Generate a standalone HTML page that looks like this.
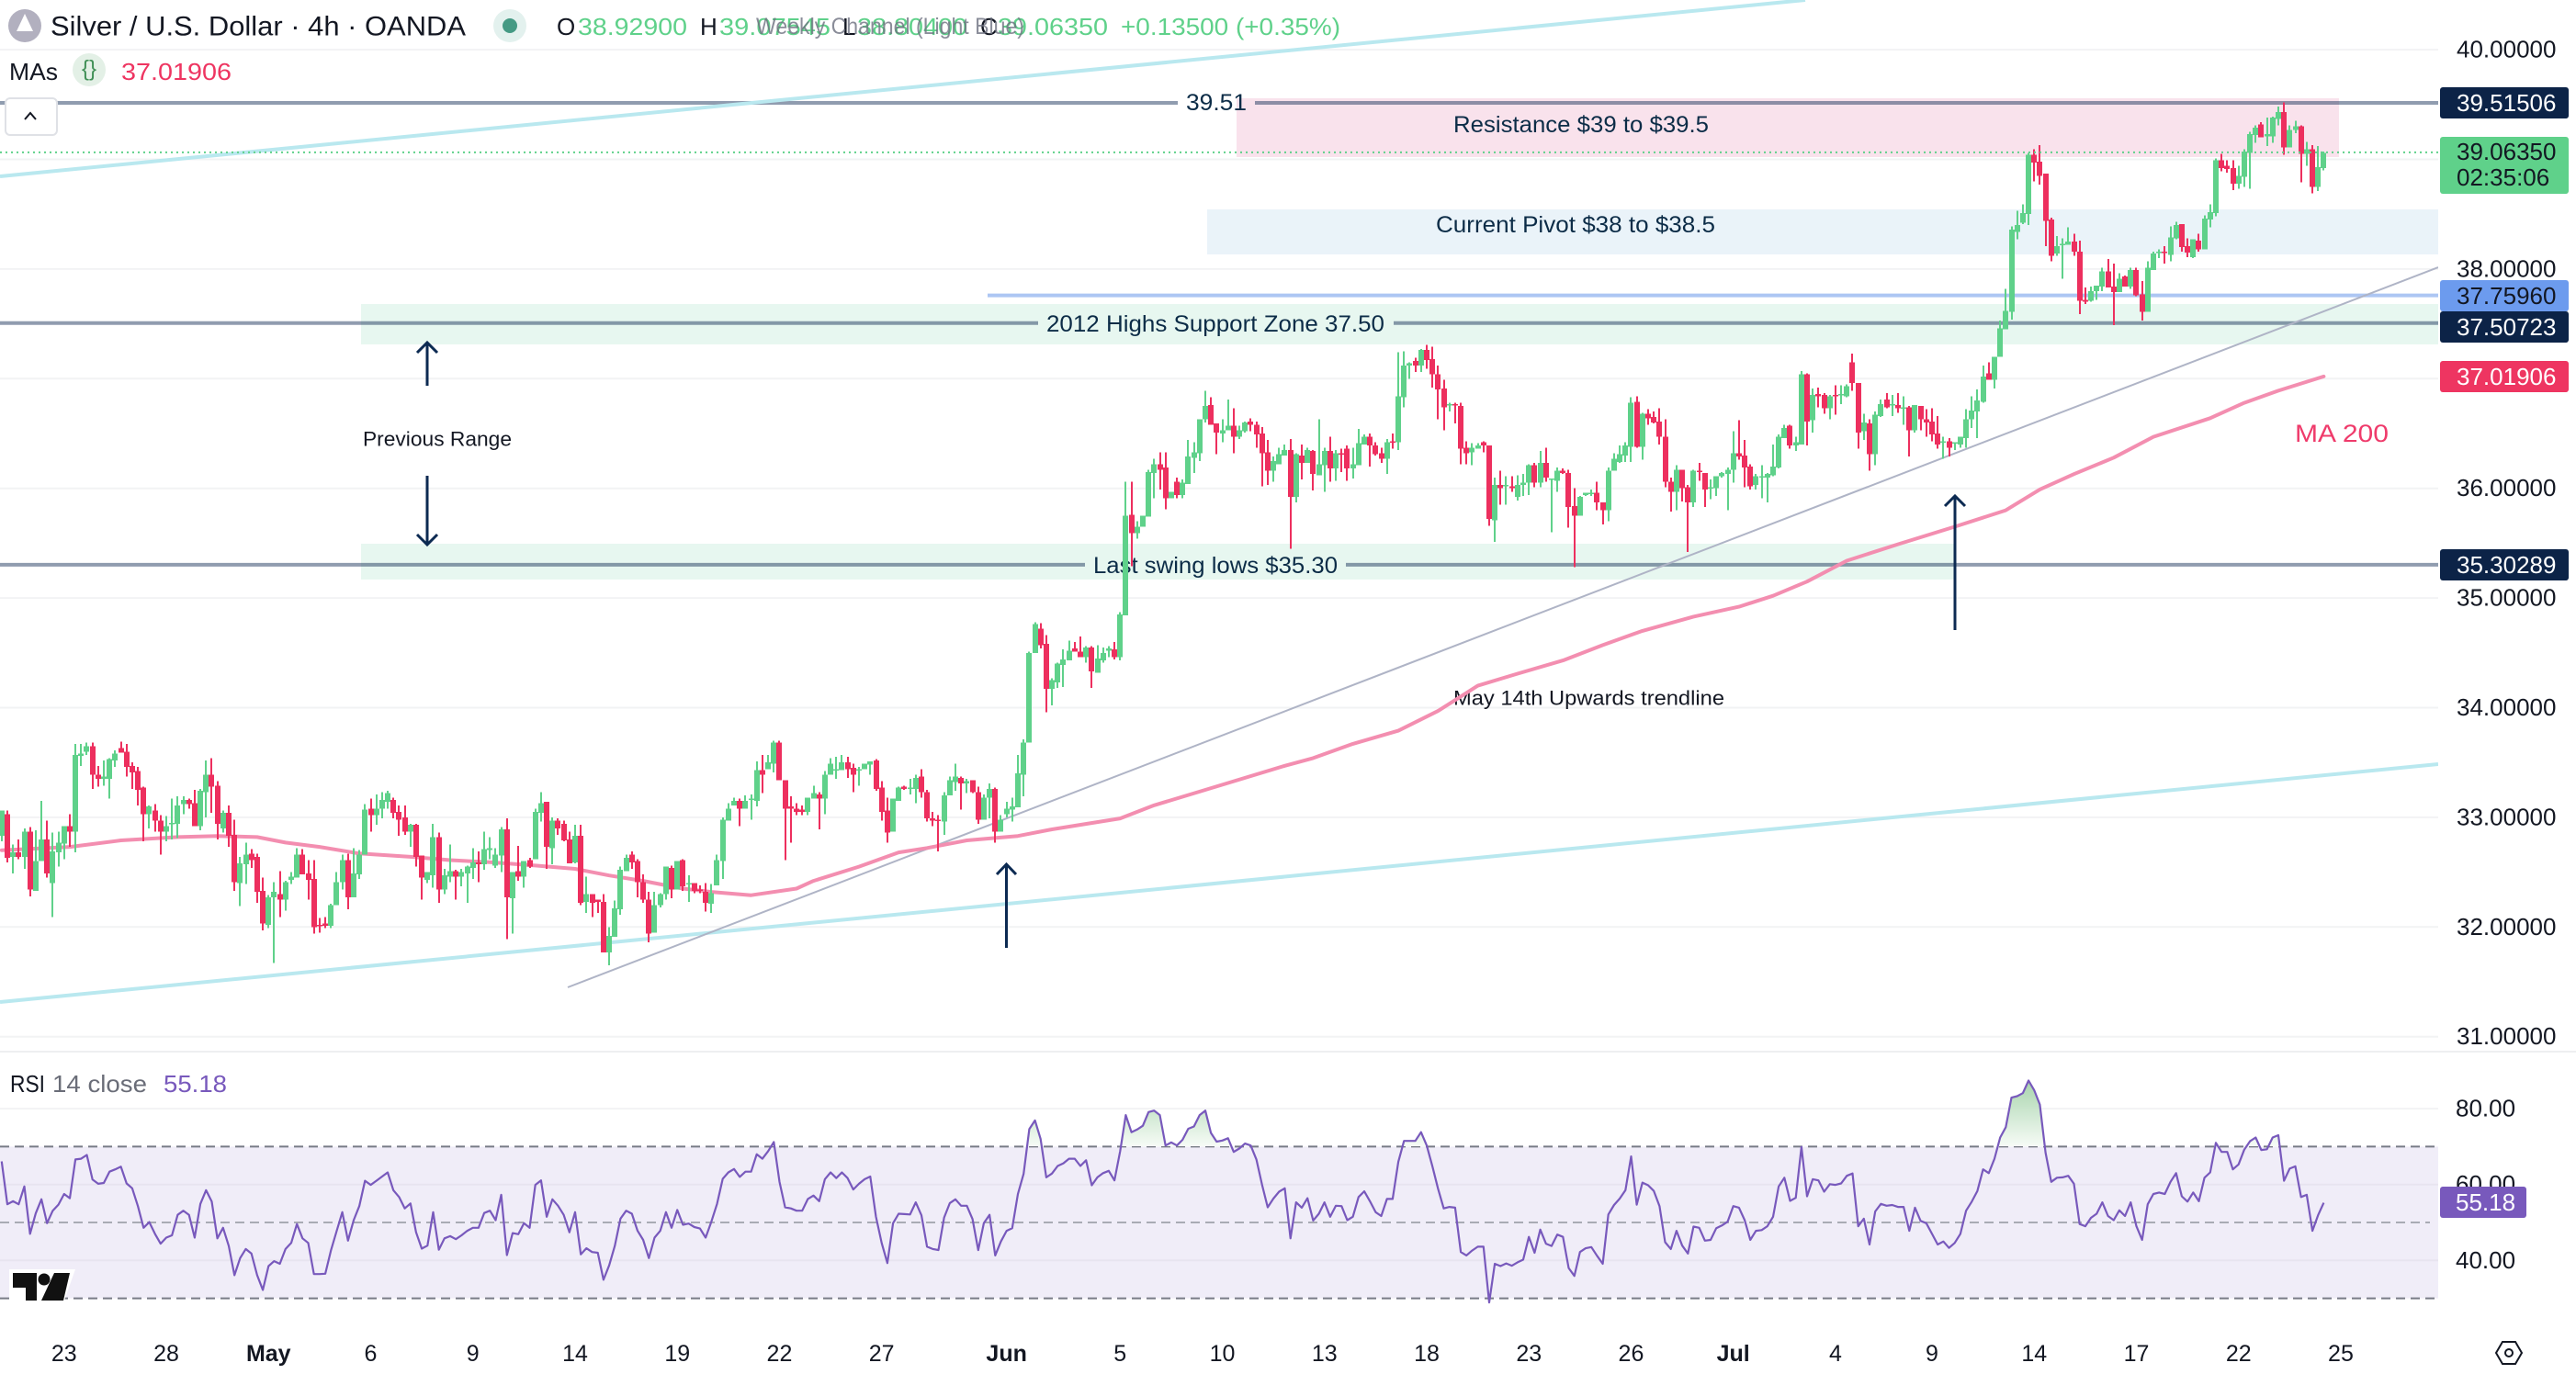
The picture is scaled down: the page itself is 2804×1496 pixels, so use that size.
<!DOCTYPE html>
<html lang="en">
<head>
<meta charset="utf-8">
<title>Silver / U.S. Dollar 4h chart</title>
<style>
html,body{margin:0;padding:0;background:#fff}
svg{display:block}
text{font-family:"Liberation Sans",sans-serif;dominant-baseline:central;fill:#131722}
.note{fill:#0c2c47}
.g{fill:#5fd18a}
</style>
</head>
<body>
<svg id="chart" xmlns="http://www.w3.org/2000/svg" width="2804" height="1496" viewBox="0 0 2804 1496">
<defs>
<linearGradient id="obGrad" gradientUnits="userSpaceOnUse" x1="0" y1="1175" x2="0" y2="1248">
<stop offset="0" stop-color="#a6d3ab"/><stop offset="1" stop-color="#f6fbf6"/>
</linearGradient>
<clipPath id="obClip"><rect x="0" y="1100" width="2654" height="148"/></clipPath>
<clipPath id="paneClip"><rect x="0" y="0" width="2654" height="1145"/></clipPath>
</defs>
<rect x="0" y="0" width="2804" height="1496" fill="#ffffff"/>
<g id="gridLayer"></g>

<g>
<rect x="1346" y="107" width="1200" height="64" fill="#f9e2ec"/>
<rect x="1314" y="228" width="1340" height="49" fill="#eaf3f9"/>
<rect x="393" y="331" width="2261" height="44" fill="#e7f7f0"/>
<rect x="393" y="592" width="1734" height="39" fill="#e7f7f0"/>
</g>

<g id="levelLayer"></g>

<g>
<text class="note" x="1291" y="112" font-size="25" textLength="66" lengthAdjust="spacingAndGlyphs">39.51</text>
<text class="note" x="1582" y="136" font-size="25" textLength="278" lengthAdjust="spacingAndGlyphs">Resistance $39 to $39.5</text>
<text class="note" x="1563" y="245" font-size="25" textLength="304" lengthAdjust="spacingAndGlyphs">Current Pivot $38 to $38.5</text>
<text class="note" x="1139" y="353" font-size="25" textLength="368" lengthAdjust="spacingAndGlyphs">2012 Highs Support Zone 37.50</text>
<text class="note" x="1190" y="616" font-size="25" textLength="266" lengthAdjust="spacingAndGlyphs">Last swing lows $35.30</text>
<text x="395" y="478" font-size="22" textLength="162" lengthAdjust="spacingAndGlyphs">Previous Range</text>
<text x="1582" y="760" font-size="22" textLength="295" lengthAdjust="spacingAndGlyphs">May 14th Upwards trendline</text>
<text x="2498" y="472" font-size="27" textLength="102" lengthAdjust="spacingAndGlyphs" style="fill:#ef3b6b">MA 200</text>
</g>

<g clip-path="url(#paneClip)">
<line x1="0" y1="192" x2="1965" y2="0" stroke="#b9e8ef" stroke-width="4"/>
<line x1="0" y1="1091" x2="2654" y2="832" stroke="#b9e8ef" stroke-width="4"/>
<line x1="618" y1="1075" x2="2654" y2="291" stroke="#afb4c6" stroke-width="2"/>
</g>

<polyline id="maLine" fill="none" stroke="#f38eb0" stroke-width="4" stroke-linejoin="round" stroke-linecap="round"/>
<g id="candleLayer" shape-rendering="crispEdges"></g>
<line id="lastPriceLine" x1="0" x2="2654" stroke="#5fd18a" stroke-width="2" stroke-dasharray="2 4"/>

<g fill="none" stroke="#0c2a52" stroke-width="3">
<path d="M465 420V373M454 384L465 373L476 384"/>
<path d="M465 518V593M454 582L465 593L476 582"/>
<path d="M1095.5 1032V941M1085 952L1095.5 941L1106 952"/>
<path d="M2128 686V540M2117 551L2128 540L2139 551"/>
</g>

<g>
<circle cx="27" cy="28" r="18" fill="#b2b0bf"/>
<path d="M27 15L36 34H18Z" fill="#ffffff"/>
<text x="55" y="29" font-size="30" textLength="452" lengthAdjust="spacingAndGlyphs">Silver / U.S. Dollar · 4h · OANDA</text>
<circle cx="555" cy="28" r="18" fill="#e3f1ee"/>
<circle cx="555" cy="28" r="8" fill="#459a84"/>
<text x="606" y="29" font-size="26">O</text>
<text class="g" x="629" y="29" font-size="26" textLength="119" lengthAdjust="spacingAndGlyphs">38.92900</text>
<text x="762" y="29" font-size="26">H</text>
<text class="g" x="783" y="29" font-size="26" textLength="121" lengthAdjust="spacingAndGlyphs">39.07545</text>
<text x="917" y="29" font-size="26">L</text>
<text class="g" x="933" y="29" font-size="26" textLength="120" lengthAdjust="spacingAndGlyphs">38.80400</text>
<text x="1067" y="29" font-size="26">C</text>
<text class="g" x="1086" y="29" font-size="26" textLength="120" lengthAdjust="spacingAndGlyphs">39.06350</text>
<text class="g" x="1220" y="29" font-size="26" textLength="239" lengthAdjust="spacingAndGlyphs">+0.13500 (+0.35%)</text>
<text x="823" y="29" font-size="25" textLength="292" lengthAdjust="spacingAndGlyphs" style="fill:#6e7180;opacity:.8">Weekly Channel (Light Blue)</text>
<text x="10" y="78" font-size="26" textLength="53" lengthAdjust="spacingAndGlyphs">MAs</text>
<circle cx="97" cy="76" r="18" fill="#e3f0e6"/>
<text x="97" y="75" font-size="24" text-anchor="middle" style="fill:#3f8f55">{}</text>
<text x="132" y="78" font-size="26" textLength="120" lengthAdjust="spacingAndGlyphs" style="fill:#ee3561">37.01906</text>
<rect x="6" y="107" width="56" height="40" rx="5" fill="#ffffff" stroke="#dfe1e6" stroke-width="2"/>
<path d="M27 130L33 123L39 130" fill="none" stroke="#131722" stroke-width="2"/>
</g>

<g id="priceAxis"></g>
<g>
<rect x="2656" y="95" width="140" height="34" rx="3" fill="#0c2347"/>
<text x="2674" y="112" font-size="26" style="fill:#fff">39.51506</text>
<rect x="2656" y="149" width="140" height="62" rx="3" fill="#5fd18a"/>
<text x="2674" y="165" font-size="26">39.06350</text>
<text x="2674" y="193" font-size="26">02:35:06</text>
<rect x="2656" y="305" width="140" height="34" rx="3" fill="#6c9bee"/>
<text x="2674" y="322" font-size="26">37.75960</text>
<rect x="2656" y="339" width="140" height="34" rx="3" fill="#0c2347"/>
<text x="2674" y="356" font-size="26" style="fill:#fff">37.50723</text>
<rect x="2656" y="393" width="140" height="34" rx="3" fill="#ee3561"/>
<text x="2674" y="410" font-size="26" style="fill:#fff">37.01906</text>
<rect x="2656" y="598" width="140" height="34" rx="3" fill="#0c2347"/>
<text x="2674" y="615" font-size="26" style="fill:#fff">35.30289</text>
</g>

<line x1="0" y1="1145" x2="2804" y2="1145" stroke="#eeeff1" stroke-width="2"/>

<g>
<text x="11" y="1180" font-size="26" textLength="38" lengthAdjust="spacingAndGlyphs">RSI</text>
<text x="57" y="1180" font-size="26" textLength="103" lengthAdjust="spacingAndGlyphs" style="fill:#6a6d78">14 close</text>
<text x="178" y="1180" font-size="26" textLength="69" lengthAdjust="spacingAndGlyphs" style="fill:#7859bc">55.18</text>
<rect id="rsiBand" x="0" width="2654" fill="#f0edf8"/>
<g id="rsiGrid"></g>
<polygon id="rsiFill" fill="url(#obGrad)" clip-path="url(#obClip)"/>
<polyline id="rsiLine" fill="none" stroke="#7859bc" stroke-width="2.2" stroke-linejoin="round"/>
</g>
<g id="rsiAxis"></g>
<rect x="2656" y="1292" width="94" height="34" rx="3" fill="#7859bc"/>
<text x="2673" y="1309" font-size="26" style="fill:#fff">55.18</text>

<g>
<path d="M10 1382H82L70 1416H10Z" fill="#ffffff"/>
<path d="M14 1386H40V1416H28V1402H14Z" fill="#111"/>
<circle cx="48" cy="1393" r="6.5" fill="#111"/>
<path d="M59 1386H76L69 1416H45Z" fill="#111"/>
</g>

<g id="timeAxis"></g>
<g fill="none" stroke="#131722" stroke-width="2">
<path d="M2717 1473L2724 1461H2738L2745 1473L2738 1485H2724Z"/>
<circle cx="2731" cy="1473" r="4"/>
</g>
</svg>

<script>
// Candles: [open, high, low, close]
const aprilCandles = [
[32.83,33.06,32.78,33.06],[33.03,33.06,32.59,32.63],[32.64,32.75,32.49,32.68],[32.68,32.80,32.62,32.64],[32.64,32.90,32.53,32.87],
[32.87,32.91,32.28,32.34],[32.33,32.88,32.33,32.60],[32.60,33.15,32.60,32.80],[32.80,32.97,32.45,32.49],[32.40,32.86,32.09,32.69],
[32.68,32.87,32.55,32.77],[32.76,32.92,32.62,32.92],[32.92,33.03,32.73,32.87],[32.87,33.67,32.68,33.57],[33.56,33.67,33.47,33.58],
[33.60,33.68,33.57,33.65],[33.65,33.68,33.26,33.39],[33.39,33.47,33.28,33.35],[33.35,33.52,33.29,33.37],[33.35,33.54,33.17,33.53],
[33.52,33.61,33.46,33.58],[33.63,33.69,33.59,33.59],[33.60,33.67,33.37,33.46],[33.47,33.50,33.26,33.41],[33.42,33.46,33.11,33.25],
[33.27,33.28,32.78,33.03],[33.03,33.11,32.90,33.10],[33.06,33.12,32.87,32.97],[32.97,33.02,32.66,32.87],[32.87,33.01,32.78,32.92],
[32.94,33.17,32.80,32.95],[32.94,33.19,32.81,33.11],[33.12,33.19,33.03,33.16],[33.16,33.17,33.08,33.12],[33.13,33.25,32.92,32.92],
[32.92,33.26,32.88,33.24],[33.23,33.52,33.00,33.39],[33.39,33.54,33.04,33.28],[33.29,33.33,32.80,32.94],[32.90,33.06,32.86,33.04],
[33.04,33.11,32.73,32.83],[32.84,32.98,32.33,32.41],[32.40,32.64,32.19,32.58],[32.57,32.77,32.39,32.66],[32.67,32.71,32.54,32.61],
[32.64,32.67,32.22,32.32],[32.33,32.45,31.97,32.03]];
const mayCandles = [
[32.02,32.29,31.99,32.27],[32.27,32.41,31.67,32.32],[32.30,32.51,32.09,32.25],[32.25,32.42,32.15,32.41],[32.43,32.50,32.39,32.46],
[32.45,32.72,32.45,32.66],[32.66,32.71,32.48,32.48],[32.49,32.61,32.25,32.43],[32.44,32.61,31.94,32.00],[32.02,32.08,31.95,32.01],
[32.03,32.09,31.99,32.01],[32.01,32.21,31.99,32.20],[32.20,32.50,32.20,32.41],[32.41,32.66,32.34,32.61],[32.61,32.67,32.16,32.27],
[32.27,32.72,32.27,32.49],[32.48,32.70,32.44,32.66],[32.66,33.12,32.66,33.07],[33.08,33.17,32.87,33.02],[33.02,33.21,32.93,33.08],
[33.08,33.23,32.99,33.16],[33.14,33.24,33.08,33.22],[33.16,33.18,32.99,33.04],[33.05,33.11,32.83,32.98],[33.00,33.11,32.84,32.87],
[32.87,32.94,32.73,32.93],[32.93,32.94,32.55,32.64],[32.65,32.65,32.25,32.45],[32.43,32.50,32.40,32.50],[32.47,32.94,32.36,32.82],
[32.82,32.86,32.22,32.34],[32.34,32.53,32.30,32.47],[32.46,32.75,32.41,32.51],[32.51,32.52,32.25,32.46],[32.46,32.53,32.37,32.50],
[32.49,32.56,32.22,32.55],[32.54,32.72,32.44,32.59],[32.59,32.69,32.41,32.57],[32.57,32.87,32.52,32.71],[32.70,32.82,32.62,32.72],
[32.56,32.72,32.54,32.66],[32.65,32.91,32.50,32.89],[32.89,32.99,31.89,32.27],[32.26,32.50,31.94,32.50],[32.51,32.74,32.42,32.46],
[32.46,32.60,32.36,32.60],[32.61,32.63,32.54,32.55],[32.62,33.08,32.62,33.05],[33.04,33.23,32.96,33.13],[33.14,33.14,32.53,32.73],
[32.72,33.00,32.57,32.97],[32.97,32.99,32.84,32.90],[32.94,32.97,32.78,32.79],[32.80,32.87,32.58,32.58],[32.59,32.93,32.58,32.83],
[32.83,32.93,32.20,32.22],[32.23,32.46,32.13,32.30],[32.30,32.30,32.09,32.22],[32.25,32.25,32.13,32.23],[32.23,32.30,31.77,31.77],
[31.77,32.00,31.65,31.92],[31.91,32.24,31.91,32.17],[32.16,32.55,32.11,32.52],[32.51,32.66,32.51,32.63],[32.66,32.69,32.53,32.59],
[32.60,32.62,32.27,32.41],[32.41,32.48,32.22,32.25],[32.25,32.32,31.86,31.94],[31.95,32.32,31.95,32.20],[32.20,32.31,32.18,32.30],
[32.30,32.55,32.25,32.55],[32.54,32.56,32.26,32.34],[32.34,32.60,32.34,32.60],[32.61,32.62,32.33,32.37],[32.39,32.47,32.23,32.40],
[32.40,32.40,32.31,32.33],[32.34,32.38,32.31,32.33],[32.32,32.40,32.14,32.22],[32.21,32.39,32.13,32.31],[32.38,32.66,32.38,32.61],
[32.60,33.00,32.44,32.98],[32.97,33.13,32.97,33.08],[33.11,33.18,33.11,33.15],[33.15,33.17,32.92,33.08],[33.08,33.20,33.08,33.15],
[33.16,33.21,32.98,33.17],[33.15,33.51,33.10,33.43],[33.43,33.57,33.22,33.39],[33.44,33.57,33.44,33.50],[33.49,33.70,33.41,33.68],
[33.68,33.70,33.34,33.34],[33.34,33.34,32.61,33.08],[33.10,33.19,32.77,33.08],[33.08,33.13,33.02,33.05],[33.07,33.11,33.02,33.05],
[33.05,33.18,33.02,33.18],[33.17,33.29,33.17,33.22],[33.21,33.23,32.89,33.17],[33.17,33.42,33.03,33.39],[33.39,33.54,33.39,33.49],
[33.44,33.55,33.35,33.44],[33.43,33.57,33.43,33.50],[33.50,33.55,33.36,33.44],[33.45,33.49,33.23,33.39],[33.44,33.46,33.29,33.44],
[33.44,33.49,33.44,33.49],[33.48,33.51,33.39,33.51],[33.52,33.53,33.24,33.26],[33.27,33.33,32.97,33.05],[33.06,33.18,32.77,32.86],
[32.87,33.17,32.87,33.17],[33.15,33.28,33.15,33.27],[33.28,33.29,33.25,33.26],[33.26,33.35,33.21,33.27],[33.26,33.39,33.13,33.36],
[33.37,33.44,33.18,33.23],[33.23,33.25,32.96,32.99],[32.99,33.05,32.92,32.97],[32.98,33.02,32.69,32.97],[32.96,33.23,32.84,33.20],
[33.20,33.37,33.20,33.34],[33.32,33.49,33.24,33.37],[33.36,33.37,33.07,33.31],[33.31,33.35,33.22,33.33],[33.34,33.34,33.22,33.23],
[33.23,33.28,32.94,32.98],[32.98,33.21,32.98,33.18],[33.18,33.31,32.99,33.26],[33.26,33.27,32.77,32.87],[32.87,33.02,32.87,32.98]];
const juneCandles = [
[33.03,33.14,33.00,33.08],[33.07,33.18,32.96,33.10],[33.09,33.57,33.09,33.40],[33.39,33.71,33.19,33.68],[33.68,34.51,33.68,34.50],
[34.50,34.78,34.50,34.76],[34.72,34.77,34.54,34.57],[34.58,34.66,33.96,34.17],[34.17,34.27,34.02,34.25],[34.23,34.41,34.18,34.40],
[34.39,34.53,34.19,34.44],[34.43,34.61,34.43,34.52],[34.54,34.60,34.51,34.51],[34.51,34.65,34.46,34.46],[34.46,34.56,34.41,34.55],
[34.55,34.56,34.18,34.33],[34.32,34.57,34.32,34.45],[34.43,34.55,34.41,34.50],[34.52,34.56,34.46,34.54],[34.53,34.60,34.44,34.46],
[34.46,34.87,34.43,34.85],[34.84,36.06,34.84,35.75],[35.76,36.06,35.29,35.59],[35.59,35.70,35.54,35.65],[35.65,35.75,35.65,35.75],
[35.74,36.17,35.74,36.15],[36.14,36.27,35.91,36.22],[36.22,36.33,35.99,36.17],[36.19,36.33,35.81,35.91],[35.91,35.97,35.91,35.97],
[36.06,36.10,35.91,35.94],[35.94,36.08,35.91,36.05],[36.04,36.44,36.04,36.29],[36.28,36.42,36.14,36.33],[36.32,36.63,36.25,36.63],
[36.63,36.89,36.60,36.75],[36.76,36.83,36.58,36.58],[36.59,36.59,36.31,36.51],[36.50,36.63,36.42,36.53],[36.53,36.81,36.53,36.57],
[36.57,36.73,36.32,36.47],[36.47,36.57,36.45,36.53],[36.52,36.61,36.51,36.60],[36.61,36.64,36.52,36.58],[36.58,36.61,36.37,36.49],
[36.50,36.56,36.02,36.32],[36.33,36.44,36.03,36.16],[36.16,36.29,36.06,36.25],[36.22,36.37,36.22,36.31],[36.30,36.40,36.30,36.35],
[36.35,36.45,35.45,35.92],[35.92,36.32,35.87,36.31],[36.30,36.40,36.08,36.23],[36.23,36.37,36.23,36.35],[36.34,36.35,35.98,36.13],
[36.12,36.63,36.12,36.22],[36.21,36.37,35.97,36.34],[36.34,36.47,36.06,36.18],[36.18,36.35,36.07,36.32],[36.32,36.36,36.15,36.31],
[36.36,36.39,36.07,36.18],[36.18,36.37,36.09,36.22],[36.21,36.54,36.21,36.41],[36.40,36.49,36.40,36.47],[36.47,36.50,36.20,36.39],
[36.39,36.42,36.30,36.31],[36.32,36.37,36.23,36.27],[36.27,36.45,36.13,36.42],[36.43,36.50,36.36,36.42],[36.42,37.24,36.35,36.84],
[36.83,37.25,36.74,37.12],[37.12,37.15,37.00,37.14],[37.16,37.19,37.06,37.12],[37.12,37.27,37.06,37.26],[37.26,37.31,37.09,37.17],
[37.18,37.29,36.92,37.04],[37.04,37.12,36.63,36.90],[36.91,36.99,36.53,36.74],[36.76,36.78,36.70,36.77],[36.77,36.78,36.59,36.76],
[36.75,36.78,36.22,36.36],[36.37,36.43,36.22,36.32],[36.33,36.41,36.21,36.37],[36.36,36.41,36.36,36.39],[36.42,36.43,36.33,36.39],
[36.39,36.39,35.66,35.72],[35.71,36.10,35.51,36.03],[36.03,36.16,35.85,36.00],[36.02,36.11,35.85,36.03],[36.02,36.11,35.97,36.00],
[35.92,36.12,35.89,36.03],[36.03,36.13,35.93,36.05],[36.05,36.22,35.94,36.21],[36.21,36.23,36.01,36.05],[36.05,36.34,36.01,36.23],
[36.23,36.37,36.06,36.10],[36.08,36.09,35.60,36.09],[36.07,36.19,35.97,36.16],[36.16,36.18,36.13,36.14],[36.14,36.17,35.64,35.83],
[35.84,36.00,35.28,35.75],[35.75,35.93,35.75,35.92],[35.94,35.96,35.93,35.96],[35.95,35.99,35.93,35.96],[35.96,36.06,35.80,35.87],
[35.87,35.87,35.67,35.80],[35.80,36.19,35.70,36.16],[36.16,36.32,36.16,36.27],[36.24,36.39,36.23,36.31],[36.30,36.42,36.24,36.39],
[36.38,36.83,36.24,36.78],[36.79,36.84,36.37,36.38],[36.38,36.69,36.26,36.68],[36.68,36.72,36.58,36.64],[36.65,36.70,36.59,36.60],
[36.61,36.73,36.40,36.47],[36.47,36.63,36.01,36.06],[36.06,36.10,35.79,35.97],[35.97,36.21,35.80,36.17],[36.17,36.17,35.88,36.00],
[36.01,36.03,35.42,35.87],[35.87,36.17,35.83,36.16],[36.16,36.23,36.07,36.15]];
const julyCandles = [
[36.14,36.14,35.83,35.99],[36.00,36.08,35.90,36.01],[36.00,36.11,35.93,36.11],[36.11,36.15,36.10,36.14],[36.13,36.19,35.80,36.17],
[36.17,36.52,36.05,36.32],[36.32,36.62,36.26,36.29],[36.30,36.44,36.01,36.19],[36.20,36.22,35.99,36.02],[36.03,36.13,35.99,36.11],
[36.10,36.21,35.91,36.11],[36.10,36.14,35.87,36.13],[36.12,36.40,36.11,36.20],[36.19,36.49,36.18,36.47],[36.46,36.58,36.46,36.55],
[36.57,36.58,36.36,36.39],[36.39,36.47,36.34,36.42],[36.40,37.07,36.40,37.04],[37.04,37.05,36.39,36.61],[36.62,36.91,36.51,36.85],
[36.86,36.92,36.74,36.84],[36.85,36.87,36.68,36.73],[36.73,36.85,36.63,36.84],[36.85,36.94,36.67,36.84],[36.85,36.94,36.77,36.86],
[36.84,36.95,36.83,36.93],[37.15,37.23,36.89,36.96],[36.96,36.96,36.36,36.51],[36.52,36.68,36.44,36.60],[36.59,36.63,36.16,36.31],
[36.31,36.70,36.21,36.67],[36.66,36.81,36.65,36.77],[36.81,36.87,36.73,36.74],[36.76,36.85,36.66,36.77],[36.76,36.87,36.69,36.73],
[36.73,36.84,36.58,36.74],[36.74,36.75,36.29,36.53],[36.53,36.76,36.51,36.76],[36.75,36.75,36.53,36.63],[36.63,36.72,36.47,36.60],
[36.61,36.73,36.43,36.49],[36.50,36.66,36.36,36.40],[36.42,36.47,36.27,36.43],[36.43,36.46,36.29,36.37],[36.41,36.42,36.35,36.42],
[36.40,36.47,36.37,36.47],[36.46,36.72,36.37,36.63],[36.63,36.84,36.55,36.71],[36.70,36.90,36.46,36.80],[36.79,37.12,36.78,37.02],
[37.05,37.15,36.99,36.99],[36.99,37.20,36.91,37.20],[37.20,37.53,37.20,37.46],[37.45,37.82,37.45,37.62],[37.61,38.39,37.54,38.36],
[38.34,38.53,38.27,38.40],[38.42,38.59,38.41,38.51],[38.50,39.06,38.40,39.04],[39.04,39.09,38.80,38.97],[38.98,39.13,38.77,38.85],
[38.87,38.87,38.21,38.44],[38.45,38.47,38.07,38.12],[38.14,38.30,38.12,38.21],[38.22,38.28,37.91,38.23],[38.22,38.38,38.22,38.25],
[38.25,38.32,38.12,38.16],[38.16,38.26,37.59,37.71],[37.72,37.83,37.68,37.70],[37.71,37.84,37.70,37.80],[37.80,37.85,37.72,37.85],
[37.84,38.01,37.80,37.98],[37.98,38.09,37.83,37.83],[37.84,38.05,37.49,37.79],[37.79,37.96,37.79,37.91],[37.93,37.94,37.84,37.84],
[37.84,38.01,37.82,37.99],[37.99,38.01,37.75,37.76],[37.77,37.89,37.53,37.61],[37.61,38.07,37.61,38.01],[37.99,38.16,37.99,38.14],
[38.15,38.18,38.10,38.16],[38.16,38.21,38.05,38.15],[38.13,38.39,38.07,38.29],[38.28,38.43,38.27,38.40],[38.41,38.41,38.16,38.20],
[38.21,38.28,38.11,38.15],[38.11,38.27,38.10,38.27],[38.26,38.32,38.16,38.18],[38.18,38.49,38.18,38.46],[38.45,38.59,38.38,38.52],
[38.51,39.01,38.48,38.99],[38.99,39.05,38.89,38.92],[38.94,38.99,38.88,38.91],[38.92,38.99,38.72,38.78],[38.78,38.94,38.73,38.85],
[38.84,39.09,38.75,39.07],[39.06,39.25,38.73,39.23],[39.22,39.31,39.15,39.29],[39.32,39.34,39.20,39.20],[39.21,39.38,39.12,39.23],
[39.21,39.39,39.15,39.38],[39.37,39.48,39.31,39.43],[39.43,39.52,39.04,39.11],[39.11,39.31,39.11,39.27],[39.27,39.35,39.24,39.30],
[39.30,39.31,38.79,39.05],[39.05,39.16,38.94,39.09],[39.09,39.13,38.69,38.75],[38.75,39.12,38.71,38.93],[38.92,39.07,38.90,39.06]];

// 200-period moving average, read at these bar numbers
const maBars = [0,12,21,31,38,45,50,56,63,72,79,86,94,101,107,113,120,125,132,140,143,151,158,163,170,179,185,197,203,212,226,231,238,246,253,260,267,275,282,289,298,306,312,318,325,334,344,353,359,365,372,379,389,395,401,409];
const maValues = [32.70,32.73,32.79,32.82,32.83,32.82,32.77,32.73,32.67,32.64,32.61,32.59,32.56,32.53,32.47,32.42,32.35,32.32,32.29,32.35,32.42,32.55,32.68,32.72,32.79,32.83,32.89,32.99,33.11,33.25,33.47,33.54,33.67,33.79,33.97,34.20,34.31,34.43,34.57,34.70,34.83,34.92,35.02,35.15,35.34,35.49,35.65,35.80,35.99,36.13,36.28,36.47,36.64,36.78,36.89,37.02];

// RSI(14) per bar
const rsiValues = [
66.1,54.8,55.6,54.8,59.5,47.0,52.4,56.1,49.8,53.1,
54.7,57.5,56.4,66.6,66.8,67.8,61.3,60.2,60.4,63.4,
64.0,64.7,60.3,59.0,54.3,48.6,50.1,47.0,44.4,46.0,
46.6,52.0,53.1,52.0,46.0,54.9,58.5,55.5,45.8,48.6,
43.8,36.1,40.6,43.0,41.8,36.1,32.2,38.5,39.8,39.1,
43.0,44.6,49.6,45.8,44.6,36.4,36.4,36.5,42.6,47.7,
52.7,45.2,50.6,54.3,61.0,59.9,61.0,62.1,63.2,58.5,
56.7,53.7,55.0,47.4,43.1,43.9,52.7,42.8,45.8,46.4,
45.6,46.6,47.8,48.6,48.6,52.5,53.1,50.6,57.3,41.4,
47.2,46.9,49.8,48.6,59.9,61.1,51.5,56.1,54.4,52.0,
47.4,52.7,41.6,43.2,42.2,42.0,34.9,38.7,43.8,51.0,
53.1,52.3,47.8,45.4,40.6,46.0,47.8,52.7,48.6,53.3,
49.4,49.7,48.8,48.4,46.0,50.2,54.9,61.5,63.2,64.1,
62.0,63.4,63.4,68.0,66.8,68.8,71.2,60.7,54.0,53.7,
53.1,53.1,56.2,57.1,55.6,61.4,63.2,61.7,63.2,61.7,
58.7,60.2,61.4,62.1,51.5,44.6,39.3,49.8,52.3,52.2,
52.1,55.3,51.9,
43.6,43.0,42.7,51.3,55.1,56.1,54.4,54.4,50.9,42.7,
49.8,52.0,41.3,45.0,47.8,48.5,57.5,62.8,74.6,76.9,
72.0,61.9,62.9,64.9,65.6,66.8,66.8,64.9,66.4,59.8,
61.9,63.0,63.6,61.1,68.8,78.3,73.8,74.5,75.5,79.1,
79.5,78.3,70.3,71.1,70.3,71.8,74.7,75.3,78.3,79.5,
73.6,71.3,71.6,72.2,68.6,69.5,70.8,70.3,66.6,59.9,
54.0,56.3,58.1,59.0,45.8,55.3,53.9,56.4,50.5,52.3,
55.3,51.5,54.4,54.3,50.6,51.5,56.7,58.2,55.6,52.7,
51.7,56.2,56.2,66.0,71.5,71.5,71.5,73.8,70.3,64.8,
58.9,53.7,54.1,53.9,42.2,41.3,42.6,43.6,43.6,28.9,
39.1,38.5,39.2,38.6,39.5,40.2,46.2,42.0,48.1,44.4,
43.8,46.8,46.2,38.0,35.9,42.2,43.2,43.5,41.2,39.1,
52.1,54.6,56.3,58.5,67.4,54.7,60.5,59.8,58.3,54.3,
44.8,43.0,47.8,43.9,41.8,48.9,48.6,45.2,45.4,48.5,
49.2,50.2,54.3,53.9,50.6,45.4,47.8,48.0,49.0,51.5,
59.5,61.8,55.7,56.5,69.9,56.9,61.4,61.1,58.1,60.1,59.9,
60.3,62.3,62.9,49.0,51.0,44.2,52.9,54.9,54.4,54.6,
54.1,54.1,47.8,53.9,50.4,49.8,47.0,44.2,45.0,43.3,
44.6,47.0,53.1,55.5,58.3,64.0,63.0,66.8,72.4,75.1,
82.9,83.3,84.1,87.4,84.9,81.1,68.4,60.7,61.8,61.9,
62.3,60.2,49.6,49.0,51.2,52.3,55.3,51.7,50.6,53.2,
51.7,55.3,49.0,45.4,54.8,57.5,57.9,57.5,60.7,63.0,
56.9,55.5,57.9,55.6,61.8,63.2,71.0,68.6,68.6,64.0,
65.3,69.2,71.4,72.4,69.1,69.3,72.4,73.0,61.0,64.2,
64.8,56.7,57.3,47.8,51.9,55.18];

// Axis content
const gridPrices = [40,39,38,37,36,35,34,33,32,31];
const priceTickLabels = ['40.00000','38.00000','36.00000','35.00000','34.00000','33.00000','32.00000','31.00000'];
const priceTickValues = [40,38,36,35,34,33,32,31];
const rsiGridValues = [80,60,40];
const rsiTickLabels = ['80.00','60.00','40.00'];
const timeTickLabels = ['23','28','May','6','9','14','19','22','27','Jun','5','10','13','18','23','26','Jul','4','9','14','17','22','25'];
const timeTickBars = [11,29,47,65,83,101,119,137,155,177,197,215,233,251,269,287,305,323,340,358,376,394,412];
const boldTimeLabels = ['May','Jun','Jul'];
const lastClose = 39.0635;

const SVGNS = 'http://www.w3.org/2000/svg';
function xOf(i){ return 1.8 + i * 6.18; }
function yOf(p){ return 112 + (39.515 - p) * 119.4; }
function rsiY(v){ return 1331 + (50 - v) * 4.13; }
function mk(tag, parent, attrs){
  const el = document.createElementNS(SVGNS, tag);
  for (const k in attrs) el.setAttribute(k, attrs[k]);
  parent.appendChild(el);
  return el;
}

// price grid
const gridLayer = document.getElementById('gridLayer');
gridPrices.forEach(function(p){
  const el = mk('line', gridLayer, {x1:0, x2:2654, y1:yOf(p), y2:yOf(p), stroke:'#f2f3f4', 'stroke-width':2});
  
  
});

// horizontal levels
const levelLayer = document.getElementById('levelLayer');
const LEVEL = 'rgba(20,45,85,0.47)';
function level(parent, price, x1, x2, color){
  return mk('line', parent, {x1:x1, x2:x2, y1:yOf(price), y2:yOf(price), stroke:color, 'stroke-width':4});
}
let seg = level(levelLayer, 39.51506, 0, 1282, LEVEL);


seg = level(levelLayer, 39.51506, 1366, 2654, LEVEL);


seg = level(levelLayer, 37.7596, 1075, 2654, '#adc6f3');


seg = level(levelLayer, 37.50723, 0, 1130, LEVEL);


seg = level(levelLayer, 37.50723, 1517, 2654, LEVEL);


seg = level(levelLayer, 35.30289, 0, 1181, LEVEL);


seg = level(levelLayer, 35.30289, 1465, 2654, LEVEL);



// moving average
document.getElementById('maLine').setAttribute('points',
  maBars.map(function(b, i){ return xOf(b).toFixed(1) + ',' + yOf(maValues[i]).toFixed(1); }).join(' '));

// candles
const candles = aprilCandles.concat(mayCandles, juneCandles, julyCandles);
const candleLayer = document.getElementById('candleLayer');
candles.forEach(function(c, i){
  const o = c[0], h = c[1], l = c[2], cl = c[3];
  const color = cl >= o ? '#5fd18a' : '#ed2f5e';
  const cx = Math.round(xOf(i));
  const wickTop = yOf(h), wickBottom = yOf(l);
  const bodyTop = yOf(Math.max(o, cl)), bodyBottom = yOf(Math.min(o, cl));
  const wick = mk('rect', candleLayer, {x:cx - 1, y:wickTop, width:2, height:Math.max(1, wickBottom - wickTop), fill:color});
  
  
  const body = mk('rect', candleLayer, {x:cx - 3, y:bodyTop, width:6, height:Math.max(1.5, bodyBottom - bodyTop), fill:color});
  
  
});

// last price line
const lastLine = document.getElementById('lastPriceLine');
lastLine.setAttribute('y1', yOf(lastClose));
lastLine.setAttribute('y2', yOf(lastClose));

// price axis labels
const priceAxis = document.getElementById('priceAxis');
priceTickLabels.forEach(function(t, i){
  const el = mk('text', priceAxis, {x:2674, y:yOf(priceTickValues[i]) - 0.5, 'font-size':26});
  el.textContent = t;
  
  
});

// RSI pane
const band = document.getElementById('rsiBand');
band.setAttribute('y', rsiY(70));
band.setAttribute('height', rsiY(30) - rsiY(70));
const rsiGrid = document.getElementById('rsiGrid');
rsiGridValues.forEach(function(v){
  const el = mk('line', rsiGrid, {x1:0, x2:2654, y1:rsiY(v), y2:rsiY(v), stroke: v === 80 ? '#f2f3f4' : '#e7e4ef', 'stroke-width':2});
  
  
});
let dash = mk('line', rsiGrid, {x1:0, x2:2654, y1:rsiY(70), y2:rsiY(70), stroke:'#787b86', 'stroke-width':2, 'stroke-dasharray':'10 6'});


dash = mk('line', rsiGrid, {x1:0, x2:2645, y1:rsiY(50), y2:rsiY(50), stroke:'#a9abb4', 'stroke-width':2, 'stroke-dasharray':'10 6'});


dash = mk('line', rsiGrid, {x1:0, x2:2654, y1:rsiY(30), y2:rsiY(30), stroke:'#787b86', 'stroke-width':2, 'stroke-dasharray':'10 6'});



const rsiPts = rsiValues.map(function(v, i){ return xOf(i).toFixed(1) + ',' + rsiY(v).toFixed(1); });
document.getElementById('rsiLine').setAttribute('points', rsiPts.join(' '));
document.getElementById('rsiFill').setAttribute('points',
  xOf(0).toFixed(1) + ',' + rsiY(70) + ' ' + rsiPts.join(' ') + ' ' + xOf(rsiValues.length - 1).toFixed(1) + ',' + rsiY(70));

const rsiAxis = document.getElementById('rsiAxis');
rsiTickLabels.forEach(function(t, i){
  const el = mk('text', rsiAxis, {x:2673, y:rsiY(rsiGridValues[i]) - 0.5, 'font-size':26});
  el.textContent = t;
  
  
});

// time axis
const timeAxis = document.getElementById('timeAxis');
timeTickLabels.forEach(function(t, i){
  const bold = boldTimeLabels.indexOf(t) >= 0;
  const el = mk('text', timeAxis, {x:xOf(timeTickBars[i]), y:1474, 'font-size':25, 'text-anchor':'middle', 'font-weight': bold ? 'bold' : 'normal'});
  el.textContent = t;
  
  
});
</script>
</body>
</html>
